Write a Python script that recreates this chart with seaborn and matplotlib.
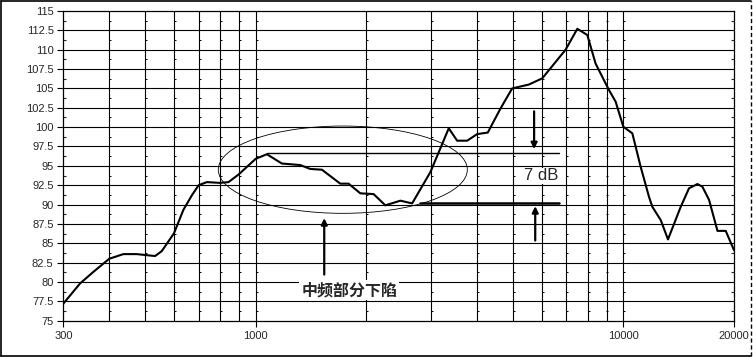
import numpy as np
import pandas as pd
import matplotlib
matplotlib.use("Agg")
import matplotlib.pyplot as plt
import seaborn as sns
from matplotlib.patches import Ellipse
from matplotlib.lines import Line2D
from matplotlib.ticker import NullLocator

# frequency response
freq = [300, 333, 362, 400, 437, 475, 533, 556, 600, 636,
        671, 700, 737, 800, 844, 900, 1000, 1073, 1179, 1323,
        1408, 1515, 1699, 1790, 1927, 2094, 2253, 2476, 2665, 2988,
        3352, 3532, 3762, 4004, 4280, 4634, 4985, 5534, 6019, 6966,
        7497, 7980, 8407, 9138, 9528, 10000, 10580, 11143, 11743, 11995,
        12637, 13227, 14322, 15089, 15906, 16408, 17106, 18031, 18987, 20000]
spl = [77.2, 79.8, 81.3, 83.0, 83.6, 83.6, 83.35, 84.0, 86.3, 89.3,
       91.2, 92.5, 92.9, 92.8, 92.9, 93.9, 95.9, 96.5, 95.3, 95.1,
       94.6, 94.5, 92.7, 92.7, 91.45, 91.35, 89.9, 90.5, 90.15, 94.2,
       99.85, 98.25, 98.25, 99.1, 99.3, 102.4, 105.0, 105.5, 106.3, 110.0,
       112.7, 111.9, 108.2, 104.8, 103.3, 100.05, 99.2, 94.9, 91.0, 89.7,
       88.0, 85.5, 89.7, 92.1, 92.65, 92.3, 90.6, 86.6, 86.6, 84.1]

xtick_vals = [300, 1000, 10000, 20000]
xtick_labels = ["300", "1000", "10000", "20000"]
ytick_vals = [75, 77.5, 80, 82.5, 85, 87.5, 90, 92.5, 95, 97.5,
              100, 102.5, 105, 107.5, 110, 112.5, 115]
ytick_labels = ["75", "77.5", "80", "82.5", "85", "87.5", "90", "92.5", "95", "97.5",
                "100", "102.5", "105", "107.5", "110", "112.5", "115"]
vgrid = [400, 500, 600, 700, 800, 900, 1000,
         2000, 3000, 4000, 5000, 6000, 7000, 8000, 9000, 10000]

# annotation levels
peak_level = 96.6
dip_level = 90.15
note_text = "中频部分下陷"
gap_text = "7 dB"

df = pd.DataFrame({"freq": freq, "spl": spl})

sns.set_style("white")
plt.rcParams["font.family"] = ["Liberation Sans", "DejaVu Sans"]

fig = plt.figure(figsize=(7.53, 3.57), dpi=100)
ax = fig.add_axes([0.0841, 0.1017, 0.8907, 0.8675])
ax.set_xscale("log")
ax.set_xlim(300, 20000)
ax.set_ylim(75, 115)

# grid
for y in ytick_vals[1:-1]:
    ax.axhline(y, color="black", lw=0.8, zorder=1)
minor_y = [(a + b) / 2 for a, b in zip(ytick_vals[:-1], ytick_vals[1:])]
for f in vgrid:
    ax.axvline(f, color="black", lw=0.8, zorder=1)
    ax.plot([f * 1.006] * len(minor_y), minor_y, ls="none", marker="_", ms=1.6,
            mew=0.7, color="black", zorder=1)

sns.lineplot(data=df, x="freq", y="spl", color="black", linewidth=1.5,
             ax=ax, zorder=3)

ax.set_xticks(xtick_vals)
ax.set_xticklabels(xtick_labels)
ax.xaxis.set_minor_locator(NullLocator())
ax.set_yticks(ytick_vals)
ax.set_yticklabels(ytick_labels)
ax.set_yticks(minor_y, minor=True)
ax.tick_params(axis="both", which="major", labelsize=8, length=4,
               width=0.8, color="black", direction="out")
ax.tick_params(axis="x", which="major", bottom=True, pad=3.5)
ax.tick_params(axis="y", which="major", left=True, pad=3)
ax.tick_params(axis="y", which="minor", left=True, right=True,
               direction="in", length=2, width=0.8)
ax.set_xlabel("")
ax.set_ylabel("")
for s in ax.spines.values():
    s.set_color("black")
    s.set_linewidth(0.9)

# ellipse around the mid-range dip
ax.add_patch(Ellipse((0.4167, 0.4876), 0.3713, 0.2819, transform=ax.transAxes,
                     fill=False, ec="black", lw=0.6, zorder=4))

# dip note
ax.annotate("", xy=(1537, 88.6), xytext=(1537, 80.6),
            arrowprops=dict(arrowstyle="-|>", color="black", lw=1.6,
                            mutation_scale=9), zorder=5)
ax.text(1798, 78.95, note_text, ha="center", va="center", fontsize=11.5,
        fontweight="bold", family=["Noto Sans CJK SC", "DejaVu Sans"],
        bbox=dict(fc="white", ec="none", pad=1.5), zorder=5)

# 7 dB gap
ax.plot([1073, 6667], [peak_level, peak_level], color="black", lw=1.0, zorder=2)
ax.plot([2806, 6667], [dip_level, dip_level], color="black", lw=1.8, zorder=2)
ax.annotate("", xy=(5720, peak_level + 0.2), xytext=(5720, 102.4),
            arrowprops=dict(arrowstyle="-|>", color="black", lw=1.6,
                            mutation_scale=9), zorder=5)
ax.annotate("", xy=(5760, dip_level), xytext=(5760, 85.0),
            arrowprops=dict(arrowstyle="-|>", color="black", lw=1.6,
                            mutation_scale=9), zorder=5)
ax.text(5993, 93.7, gap_text, ha="center", va="center", fontsize=12,
        bbox=dict(fc="white", ec="none", pad=0.3), zorder=5)

# outer frame of the picture
fig.add_artist(Line2D([0.0015, 0.0015], [0.002, 0.998], color="black", lw=1.2))
fig.add_artist(Line2D([0.0015, 0.998], [0.998, 0.998], color="black", lw=1.2))
fig.add_artist(Line2D([0.0015, 0.998], [0.003, 0.003], color="black", lw=1.2))
fig.add_artist(Line2D([0.998, 0.998], [0.003, 0.998], color="black", lw=1.0,
                      ls=(0, (3, 2))))

fig.savefig("out.png", dpi=100)
